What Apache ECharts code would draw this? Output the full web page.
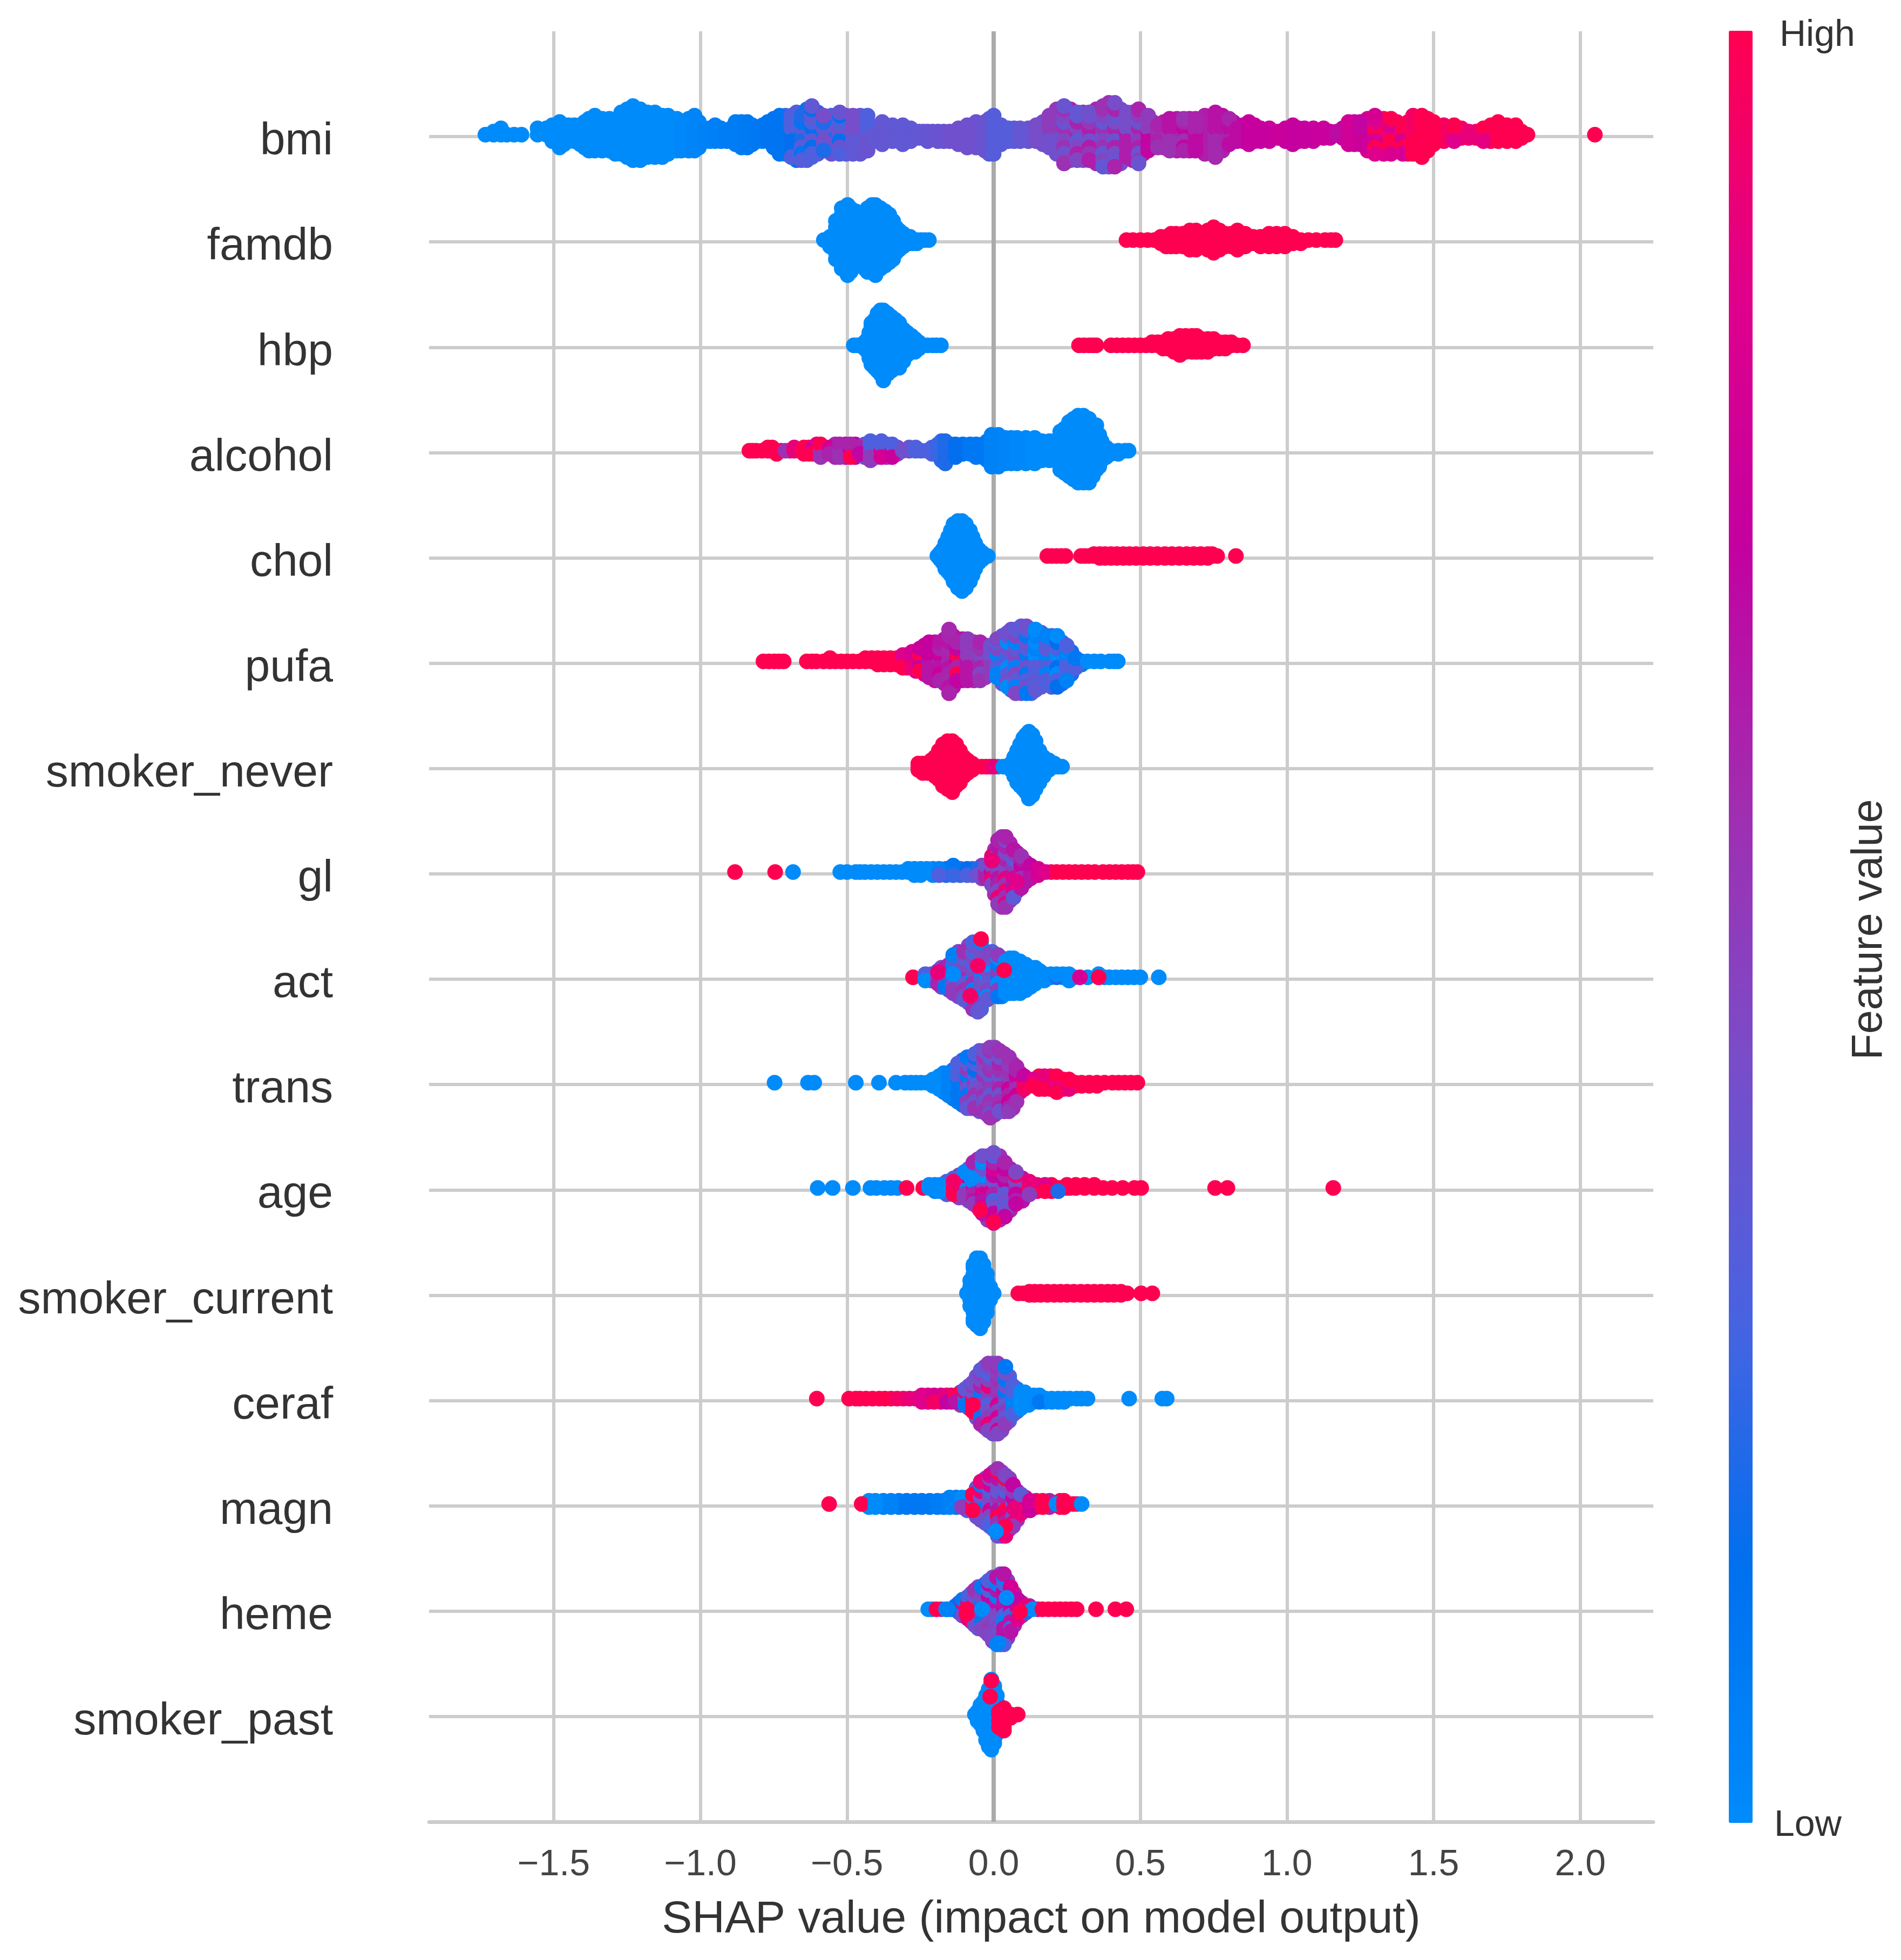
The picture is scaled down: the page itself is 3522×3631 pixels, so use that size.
<!DOCTYPE html>
<html><head><meta charset="utf-8">
<style>html,body{margin:0;padding:0;background:#fff}#c{width:3522px;height:3631px}</style>
<script src="https://cdn.jsdelivr.net/npm/echarts@6/dist/echarts.min.js"></script>
</head><body><div id="c"></div>
<script>
// Feature names, top to bottom
const featureNames=["bmi","famdb","hbp","alcohol","chol","pufa","smoker_never","gl","act","trans","age","smoker_current","ceraf","magn","heme","smoker_past"];
const xTicks=[-1.5,-1,-0.5,0,0.5,1,1.5,2];
// Each swarm column: [SHAP value, dots stacked above, dots stacked below, feature value(s)]
const bmi=[[-1.733,0,0,0],[-1.68,1,0,0],[-1.66,0,0,0],[-1.61,0,0,0],[-1.555,1,0,0],[-1.525,1,0,0],[-1.48,2,2,0],[-1.45,1.5,1,0],[-1.41,1.5,1.5,0],[-1.38,2.5,2.5,0],[-1.36,3,2.5,0],[-1.31,2.5,2.5,0],[-1.27,3.5,3,0],[-1.23,4.5,4,0],[-1.18,3.5,3.5,0],[-1.13,3,3.5,0],[-1.095,2.5,2.5,0],[-1.065,2,2.5,.02],[-1.02,3,2.5,.03],[-.985,1,1,.05],[-.95,1.5,1,.06],[-.91,.5,1,.08],[-.88,2,1.5,.08],[-.84,2,2,.09],[-.805,1,1,.1],[-.77,2,1,.12],[-.73,3,3,.12],[-.69,3,3.5,[.15,.3]],[-.655,3,4,[.12,.32,.2]],[-.62,4.5,3.5,[.3,.15,.35]],[-.58,3,2.5,[.2,.35,.42]],[-.525,3.5,3,[.3,.38,.15]],[-.48,3,3,[.35,.42]],[-.43,3,2.5,[.38,.3]],[-.41,0,1,.36],[-.38,2,1.5,.36],[-.31,1.5,1.5,.35],[-.255,.5,.5,.36],[-.225,.5,1,.37],[-.19,.5,1,.38],[-.15,.5,1,.4],[-.09,1.5,2,.4],[-.03,2,2.5,.38],
[0,3,3,.32],[.05,1,1,.32],[.09,1,1,.36],[.145,1.5,1,.42],[.19,3,2,[.4,.5]],[.24,4.5,4.5,[.38,.55,.45]],[.285,3.5,4,[.6,.45,.36]],[.326,3.5,4,[.52,.62,.4]],[.373,4.5,5,[.36,.55,.45]],[.413,5,5,[.42,.6,.38]],[.454,3.5,3.5,[.62,.42]],[.494,4,4.5,[.38,.6,.5]],[.527,3,2.5,[.7,.5]],[.56,1.5,2,[.6,.55]],[.6,2.5,2.5,[.55,.66]],[.648,2.5,2.5,[.6,.7,.55]],[.688,2.5,2.5,[.68,.6]],[.756,3.5,3.5,[.58,.66]],[.803,2.5,1.5,[.6,.68]],[.83,1,1,.68],[.87,2,1.5,.72],[.91,1,1,.72],[.97,.5,.5,.74],[1.02,1.5,1.5,.72],[1.06,1,1,.72],[1.125,1,.5,.74],[1.17,.5,0,.68],[1.21,2,1.5,.78],[1.25,2,1.5,[.75,.7]],[1.3,3,3,[.85,1,.8]],[1.355,2.5,3,[1,.82]],[1.395,1.5,3,[.8,1]],[1.43,3,3,[1,.95]],[1.46,3,3.5,1],[1.5,2,1.5,1],[1.57,1.5,1,[.85,1]],[1.62,.5,.5,.9],[1.67,1,1,[.88,1]],[1.72,2,1,1],[1.78,1.5,1,1],[1.82,0,0,1],[2.05,0,0,1]];
const bmiMid=[[-1.705,.5,0,0],[-1.635,0,0,0],[-1.505,1.5,1,0],[-1.465,1.5,1.5,0],[-1.43,1.5,1,0],[-1.395,2,2,0],[-1.335,2.5,2.5,0],[-1.29,2,3,0],[-1.25,4,3.5,0],[-1.205,4,4,0],[-1.155,3.5,3.5,0],[-1.11,3,3,0],[-1.08,2.5,2.5,0],[-1.04,2.5,2.5,.02],[-1.005,2,2,.03],[-.968,1,1,.05],[-.93,1,1,.07],[-.895,1,1,.08],[-.86,2,2,.08],[-.823,1.5,1.5,.09],[-.788,1.5,1,.1],[-.75,2.5,2,.12],[-.71,3,3,[.12,.3]],[-.672,3.5,4,[.3,.15]],[-.637,4,4,[.3,.12]],[-.6,3.5,3,[.35,.2]],[-.553,3,3,[.4,.3]],[-.503,3,3,[.32,.42]],[-.455,3,3,.36],[-.395,1,1,.36],[-.345,1.5,1,.35],[-.283,1,1,.35],[-.24,.5,.5,.36],[-.208,.5,.5,.37],[-.17,.5,1,.38],[-.12,1,1.5,.4],[-.06,2,2,.38],[-.015,2.5,3,.34],[.025,1.5,1.5,.33],[.07,1,1,.34],[.118,1,1,.38],[.168,2,1.5,.42],[.215,4,3,[.4,.52]],[.262,4,4,[.45,.6,.38]],[.305,3.5,4,[.5,.4]],[.35,4,4.5,[.42,.6]],[.393,5,5,[.4,.55]],[.433,4,4.5,[.6,.4]],[.474,3.5,4,[.42,.62]],[.51,3,3,[.6,.5]],[.543,2,2,.58],[.58,2,2,.62],[.625,2.5,2.5,.62],[.668,2.5,2.5,.64],[.72,3,3,.62],[.78,3,2.5,[.6,.68]],[.817,2,1,.68],[.85,1.5,1,.7],[.89,1.5,1,.72],[.94,1,1,.73],[.995,1,1,.72],[1.04,1,1,.72],[1.09,1,1,.73],[1.147,.5,.5,.72],[1.19,1,.5,.72],[1.23,2,1.5,.76],[1.275,2.5,2.5,.8],[1.33,2.5,3,[1,.85]],[1.375,2,2.5,.95],[1.413,2,3,1],[1.48,2.5,2.5,1],[1.535,1.5,1,.95],[1.595,1,.5,.95],[1.645,.5,.5,.95],[1.695,1.5,1,1],[1.75,1.5,1,1],[1.8,.5,.5,1]];
const famdb=[[-.579,0,0,0],[-.558,.5,1,0],[-.538,3,3,0],[-.518,5,4.5,0],[-.498,5.5,5.5,0],[-.47,4.5,4,0],[-.45,4,4,0],[-.43,5,5,0],[-.403,5.5,5.5,0],[-.37,4.5,4,0],[-.343,3,3,0],[-.322,1.5,1.5,0],[-.295,0,.5,0],[-.275,0,.5,0],[-.248,0,0,0],[-.221,0,0,0],
[.453,0,0,1],[.5,0,0,1],[.548,0,0,1],[.588,.5,1,1],[.622,1,1,1],[.669,1.5,1.5,1],[.709,1,1,1],[.75,2,2,1],[.79,1,1,1],[.831,1.5,1.5,1],[.885,.5,.5,1],[.939,1,1,1],[.993,1,1,1],[1.047,0,.5,1],[1.1,0,0,1],[1.165,0,0,1]];
const famdbMid=[[-.488,5,5,0],[-.46,4,4,0],[-.44,4.5,4.5,0],[-.415,5.5,5,0],[-.386,5,4.5,0],[-.356,4,3.5,0],[-.333,2,2,0],[-.308,1,1,0],[-.285,.5,.5,0],[-.262,0,.5,0],[-.235,0,0,0],[.475,0,0,1],[.525,0,0,1],[.57,.5,.5,1],[.605,1,1,1],[.645,1,1,1],[.69,1.5,1.5,1],[.73,1.5,1.5,1],[.77,1.5,1.5,1],[.81,1,1,1],[.858,1,1,1],[.91,.5,1,1],[.965,1,1,1],[1.02,.5,.5,1],[1.073,0,0,1],[1.13,0,0,1],[1.15,0,0,1]];
const hbp=[[-.477,0,0,0],[-.45,0,0,0],[-.43,1,1,0],[-.417,3.5,3,0],[-.396,5,4,0],[-.376,5.5,5.5,0],[-.349,4.5,4,0],[-.322,3.5,3.5,0],[-.295,2,1.5,0],[-.268,1,1,0],[-.241,0,0,0],[-.208,0,0,0],[-.18,0,0,0],
[.291,0,0,1],[.325,0,0,1],[.35,0,0,1],[.4,0,0,1],[.44,0,0,1],[.48,0,0,1],[.52,0,0,1],[.56,.5,0,1],[.595,1,.5,1],[.635,1.5,1.5,1],[.676,1.5,1,1],[.709,1,1,1],[.75,1,.5,1],[.79,.5,.5,1],[.83,0,0,1],[.85,0,0,1]];
const hbpMid=[[-.465,0,0,0],[-.44,.5,.5,0],[-.424,2,2,0],[-.406,4,3.5,0],[-.386,5.5,4.5,0],[-.362,5,4.5,0],[-.335,4,3.5,0],[-.308,2.5,2.5,0],[-.28,1.5,1,0],[-.255,.5,.5,0],[-.225,0,0,0],[-.195,0,0,0],[.308,0,0,1],[.338,0,0,1],[.42,0,0,1],[.46,0,0,1],[.5,0,0,1],[.54,.5,0,1],[.578,.5,.5,1],[.615,1,1,1],[.655,1.5,1,1],[.692,1.5,1,1],[.73,1,1,1],[.77,.5,.5,1],[.81,.5,0,1]];
const alcohol=[[-.833,0,0,1],[-.81,0,0,1],[-.77,.5,0,1],[-.74,0,.5,1],[-.71,0,0,[.55,.8]],[-.68,.5,0,.9],[-.647,.5,.5,1],[-.616,.5,.5,[1,.8]],[-.59,1,1,[.55,1]],[-.56,.5,.5,[.6,.8]],[-.525,1,1,[.55,.6]],[-.488,1,1,[.8,.6,1]],[-.457,.5,.5,[.7,.6]],[-.42,1.5,1.5,[.5,.3]],[-.383,1.5,1,[.8,.3]],[-.346,1,1,[.75,.3]],[-.31,0,0,.4],[-.266,.5,0,.3],[-.229,0,0,.3],[-.19,1,.5,.25],[-.165,1.5,2,.2],[-.13,1,1,.15],[-.08,1,.5,.1],[-.038,1,1,.1],[-.007,2.5,2.5,.05],[.04,2,2,.03],[.08,2,2,.02],[.14,2,2,0],[.19,1.5,1.5,0],[.227,3,3,0],[.257,4.5,4,0],[.288,5.5,5,0],[.325,5,5,0],[.35,4,3,0],[.368,1.5,1.5,0],[.4,0,.5,0],[.448,0,0,0],[.46,0,0,0]];
const alcoholMid=[[-.822,0,0,1],[-.79,0,0,1],[-.755,.5,0,1],[-.725,0,0,.7],[-.695,0,0,.8],[-.663,0,0,1],[-.63,.5,.5,1],[-.603,1,.5,.9],[-.575,.5,.5,.7],[-.54,1,1,.58],[-.505,1,1,.65],[-.472,1,1,.7],[-.44,1,1,.4],[-.4,1,1,.4],[-.365,1,1,.45],[-.328,.5,.5,.45],[-.288,.5,0,.35],[-.248,0,0,.3],[-.21,.5,.5,.28],[-.178,1.5,1.5,.22],[-.148,1,1,.18],[-.105,1,.5,.12],[-.06,1,1,.1],[-.022,1.5,1.5,.08],[.016,2.5,2.5,.03],[.06,2,2,.02],[.11,2,2,.01],[.165,1.5,1.5,0],[.208,1.5,1.5,0],[.242,3.5,3.5,0],[.272,5,4.5,0],[.306,5.5,5,0],[.338,4,4,0],[.36,2.5,2.5,0],[.384,.5,1,0],[.425,0,.5,0]];
const chol=[[-.192,0,0,0],[-.174,1,1,0],[-.155,3,2.5,0],[-.137,5,4,0],[-.108,5.5,5.5,0],[-.081,4,4,0],[-.063,2,2,0],[-.038,.5,.5,0],[-.02,0,0,0],
[.183,0,0,1],[.214,0,0,1],[.245,0,0,1],[.298,0,0,1],[.325,0,0,1],[.362,.3,.3,1],[.4,.3,.3,1],[.442,.3,.3,1],[.485,.3,.3,1],[.534,.3,.3,1],[.584,.3,.3,1],[.633,.3,.3,1],[.682,.3,.3,1],[.73,.3,.3,1],[.762,0,0,1],[.826,0,0,1]];
const cholMid=[[-.183,.5,.5,0],[-.165,2,2,0],[-.146,4,3,0],[-.122,5.5,5,0],[-.095,5,5,0],[-.072,3,3,0],[-.05,1,1,0],[.198,0,0,1],[.23,0,0,1],[.31,0,0,1],[.342,.3,0,1],[.38,.3,.3,1],[.42,.3,.3,1],[.463,.3,.3,1],[.51,.3,.3,1],[.558,.3,.3,1],[.608,.3,.3,1],[.658,.3,.3,1],[.706,.3,.3,1],[.745,.3,0,1]];
const pufa=[[-.785,0,0,1],[-.748,0,0,1],[-.716,0,0,1],[-.637,0,0,1],[-.605,0,0,1],[-.558,.5,0,1],[-.52,0,0,1],[-.48,0,0,1],[-.437,.5,0,1],[-.395,.5,.5,1],[-.352,.5,.5,1],[-.31,1,1,[1,.85]],[-.278,1.5,1,[.9,.8]],[-.252,2,1.5,[.75,1,.7]],[-.22,3,2.5,[.65,.72]],[-.183,3,3,[.6,.75,.65]],[-.152,5,5,[.58,.6,.65]],[-.125,3,3,[.7,1,.6]],[-.089,3.5,3,[.65,.5]],[-.046,3,3,[.55,.45,.6]],[-.01,2.5,2,[.5,.4]],[.012,3.5,2.5,[.45,.05,.3]],[.048,4.5,4,[.4,.3,0]],[.075,5,5,[.35,.45,.05]],[.112,5.5,5,[.3,.1,.4]],[.143,5,4.5,[.3,0,.35,.05]],[.18,4,3.5,[.35,.05,.3]],[.217,4,4,[.3,0,.15]],[.249,2.5,3,[.3,.05]],[.28,.5,1,[.1,.3]],[.32,0,0,0],[.365,0,0,0],[.423,0,0,0]];
const pufaMid=[[-.766,0,0,1],[-.732,0,0,1],[-.62,0,0,1],[-.58,0,0,1],[-.54,0,0,1],[-.5,0,0,1],[-.458,0,0,1],[-.416,.5,0,1],[-.374,.5,.5,1],[-.33,.5,.5,1],[-.295,1,1,.95],[-.265,1.5,1.5,.8],[-.236,2.5,2,.72],[-.2,3,3,.65],[-.167,3.5,3.5,.62],[-.138,4,4,.65],[-.107,3.5,3,.65],[-.067,3,3,.58],[-.028,2.5,2.5,.5],[.03,4,3.5,.35],[.06,5,4.5,.38],[.094,5.5,5,.35],[.128,5,5,.32],[.162,4.5,4,.32],[.198,4,4,.3],[.233,3,3.5,.25],[.265,1.5,2,.2],[.3,0,.5,.1],[.343,0,0,0],[.395,0,0,0],[.41,0,0,0]];
const smokerNever=[[-.257,.5,.5,1],[-.226,.5,1,1],[-.2,1.5,1.5,1],[-.173,3.5,3,1],[-.141,4,4,1],[-.115,2.5,2.5,1],[-.089,1,1,1],[-.057,0,0,1],[-.025,0,0,1],[0,0,0,.9],
[.033,0,0,0],[.059,.5,.5,0],[.08,2.5,2.5,0],[.101,4.5,3.5,0],[.12,5.5,5,0],[.143,4,3.5,0],[.17,1.5,1.5,0],[.207,.5,0,0],[.233,0,0,0]];
const smokerNeverMid=[[-.242,.5,1,1],[-.213,1,1,1],[-.187,2.5,2,1],[-.157,4,3.5,1],[-.128,3.5,3,1],[-.102,1.5,1.5,1],[-.073,.5,.5,1],[-.04,0,0,1],[-.012,0,0,1],[.015,0,0,0],[.046,0,0,0],[.07,1.5,1.5,0],[.09,3.5,3,0],[.11,5,4,0],[.132,5,4.5,0],[.156,2.5,2.5,0],[.188,1,.5,0],[.22,0,0,0]];
const gl=[[-.882,0,0,1],[-.745,0,0,1],[-.684,0,0,0],[-.523,0,0,0],[-.47,0,0,0],[-.439,0,0,0],[-.397,0,0,[0,.3]],[-.354,0,0,0],[-.312,0,0,0],[-.27,.5,.5,0],[-.228,.5,0,0],[-.186,.5,.5,[.3,.05]],[-.138,1,.5,[.25,.1]],[-.09,.5,.5,[.3,.15]],[-.054,.5,.5,[.4,.2]],[-.027,1,1,[.6,.4]],[-.006,2.5,2,[.7,.45,.9]],[.015,5,5,[.5,.45,.65,.9,.6]],[.041,5.5,5.5,[.55,.45,.9,.6]],[.068,3.5,4,[.65,.5,.85,.35]],[.094,2.5,2.5,[.65,.7,.55]],[.126,1,1,[.65,.7]],[.152,.5,.5,.8],[.178,0,0,.85],[.215,0,0,1],[.257,0,0,1],[.3,0,0,1],[.345,0,0,1],[.373,0,0,1],[.416,0,0,1],[.458,0,0,1],[.49,0,0,1]];
const glMid=[[-.5,0,0,0],[-.455,0,0,0],[-.418,0,0,0],[-.375,0,0,0],[-.333,0,0,0],[-.291,.5,0,0],[-.249,.5,.5,0],[-.207,.5,.5,.03],[-.162,.5,.5,.2],[-.114,.5,.5,.25],[-.072,.5,.5,.3],[-.04,1,1,.5],[.004,3.5,3.5,.55],[.028,5.5,5.5,.55],[.055,4.5,4.5,.6],[.08,3,3,.6],[.11,1.5,1.5,.68],[.14,.5,.5,.72],[.165,0,0,.85],[.196,0,0,1],[.236,0,0,1],[.278,0,0,1],[.322,0,0,1],[.395,0,0,1],[.437,0,0,1],[.475,0,0,1]];
const act=[[-.275,0,0,1],[-.233,.5,.5,[0,.3]],[-.19,1,1,[.5,.3,.6]],[-.165,1.5,1.5,[.6,.1,.5]],[-.138,3.5,2.5,[.05,.5,.4]],[-.101,4,3.5,[.45,.55,.35]],[-.07,5.5,5,[.05,.45,.55,.3]],[-.043,5.5,5,[.3,.05,.4,.5,.4]],[-.022,3.5,3.5,[0,.45,.35]],[.015,3.5,3,[.1,.5,0]],[.041,2.5,2.5,0],[.068,3,2.5,0],[.11,2,2,0],[.142,1.5,1,0],[.173,.5,.5,0],[.215,.5,0,[.2,0]],[.257,.5,.5,0],[.294,0,0,[.8,0]],[.358,.5,0,0],[.395,0,0,0],[.437,0,0,0],[.479,0,0,0],[.563,0,0,0]];
const actMid=[[-.212,.5,.5,.3],[-.178,1.5,1.5,.4],[-.152,2,2,.5],[-.12,4,3,.45],[-.085,5,4,.45],[-.056,5.5,5,.4],[-.005,4,3,.3],[.028,3,3,0],[.055,3,2.5,0],[.09,2.5,2.5,0],[.126,1.5,1.5,0],[.157,1,.5,0],[.195,.5,0,0],[.236,.5,0,0],[.275,0,0,0],[.32,0,0,0],[.378,0,0,0],[.416,0,0,0],[.458,0,0,0],[.5,0,0,0]];
const trans=[[-.747,0,0,0],[-.633,0,0,0],[-.612,0,0,0],[-.47,0,0,0],[-.391,0,0,0],[-.333,0,0,0],[-.302,0,0,0],[-.265,0,0,0],[-.228,0,0,0],[-.186,1,1,0],[-.154,1.5,2,.05],[-.122,3,3,[.1,.3]],[-.09,4,4,[.5,.1,.35]],[-.064,4.5,4,[.55,.3,.4,.15]],[-.033,5,4.5,[.4,.55,.45]],[-.012,5.5,5.5,[.55,.35,.5]],[.02,5,4.5,[.55,.4,.6]],[.052,4,4.5,[.6,.5,.75,.55]],[.078,2.5,3,[.6,.75,.55]],[.104,1,1,[.95,.7]],[.136,.5,.5,[1,.85]],[.173,1,1,[1,.9]],[.215,1,1.5,[.85,1]],[.257,.5,1,[1,.9]],[.3,0,.5,1],[.352,0,.5,1],[.405,0,0,1],[.447,0,0,1],[.49,0,0,1]];
const transMid=[[-.283,0,0,0],[-.248,0,0,0],[-.207,.5,.5,0],[-.17,1.5,1.5,.03],[-.138,2,2.5,.08],[-.106,3.5,3.5,.2],[-.077,4,4,.35],[-.048,5,4.5,.4],[-.022,5,5,.45],[.004,5.5,5,.5],[.036,4.5,4.5,.55],[.065,3,4,.58],[.09,1.5,1.5,.8],[.12,.5,.5,1],[.155,1,1,1],[.194,1,1,1],[.236,.5,1,1],[.278,0,.5,1],[.326,0,.5,1],[.378,0,0,1],[.426,0,0,1],[.468,0,0,1]];
const age=[[-.6,0,0,0],[-.549,0,0,0],[-.48,0,0,0],[-.42,0,0,0],[-.373,0,0,0],[-.328,0,0,0],[-.297,0,0,1],[-.24,0,0,1],[-.22,.5,0,0],[-.183,.5,.5,0],[-.137,1.5,1,[1,.3]],[-.1,2.5,1.5,[.7,0,.5]],[-.069,4,2.5,[.65,0,.6,.5]],[-.038,5,4,[.65,.4,.8,0]],[0,5.5,5.5,[.8,.4,.6,.7,.3]],[.038,4,4.5,[.4,.7,.35,.6]],[.076,2.5,2.5,[.6,.45,.7,.9]],[.122,1,1,[1,.9,.5]],[.175,.5,.5,[1,.85]],[.22,0,.5,[1,.2]],[.28,.5,0,1],[.343,.5,0,1],[.404,0,0,1],[.48,0,0,1],[.503,0,0,1],[.755,0,0,1],[.797,0,0,1],[1.158,0,0,1]];
const ageMid=[[-.4,0,0,0],[-.35,0,0,0],[-.2,.5,.5,.05],[-.16,1,1,.3],[-.118,2,1.5,.5],[-.085,3,2,.4],[-.054,4.5,3,.55],[-.02,5,5,.5],[.02,5,5,.55],[.056,3,3.5,.6],[.098,1.5,2,.65],[.148,.5,.5,.9],[.197,.5,.5,1],[.23,0,0,1],[.25,.5,0,1],[.26,0,0,1],[.31,.5,0,1],[.373,0,0,1],[.44,0,0,1]];
const smokerCurrent=[[-.091,0,0,0],[-.069,4.5,4.5,0],[-.046,5.5,5.5,0],[-.023,3,3,0],[0,0,0,0],
[.084,0,0,1],[.122,.25,.25,1],[.16,.25,.25,1],[.206,.25,.25,1],[.25,.25,.25,1],[.297,.25,.25,1],[.343,.25,.25,1],[.389,.25,.25,1],[.434,.25,.25,1],[.503,0,0,1],[.541,0,0,1]];
const smokerCurrentMid=[[-.08,2,2,0],[-.058,5.5,5,0],[-.035,4.5,4.5,0],[-.012,1,1,0],[.1,0,0,1],[.14,.25,.25,1],[.183,.25,.25,1],[.228,.25,.25,1],[.273,.25,.25,1],[.32,.25,.25,1],[.366,.25,.25,1],[.41,.25,.25,1],[.455,0,0,1]];
const ceraf=[[-.603,0,0,1],[-.493,0,0,1],[-.456,0,0,1],[-.413,0,0,1],[-.371,0,0,1],[-.329,0,0,.95],[-.287,0,0,.9],[-.245,.5,.5,.85],[-.203,.5,.5,[.95,.8]],[-.16,.5,.5,[.7,.9]],[-.129,.5,.5,[.65,1]],[-.097,1.5,1,[.35,.9,.1]],[-.071,2.5,2,[1,.4,.1,.5]],[-.044,4.5,4,[.45,.1,.5,.6,.35]],[-.018,5.5,5,[.45,.5,.3,.9,.4]],[.014,5.5,5.5,[.45,.55,.8,.5]],[.04,5,4,[.5,.1,.35,.4]],[.066,2,2.5,[.05,.3]],[.093,1,1.5,0],[.119,.5,1,0],[.156,.5,.5,[.1,0]],[.198,0,.5,0],[.24,0,.5,0],[.283,0,0,0],[.32,0,0,0],[.462,0,0,0],[.575,0,0,0],[.59,0,0,0]];
const cerafMid=[[-.47,0,0,1],[-.435,0,0,1],[-.39,0,0,1],[-.35,0,0,1],[-.308,0,0,.95],[-.266,0,0,.88],[-.224,.5,.5,.85],[-.18,.5,.5,.8],[-.145,.5,.5,.75],[-.113,1,1,.5],[-.084,2,1.5,.45],[-.058,3.5,3,.4],[-.03,5,4.5,.45],[-.002,5.5,5.5,.4],[.027,5,5,.45],[.053,3.5,3.5,.3],[.08,1.5,2,.05],[.106,1,1,0],[.137,.5,.5,0],[.177,0,.5,0],[.22,0,.5,0],[.26,0,0,0],[.3,0,0,0]];
const magn=[[-.561,0,0,1],[-.45,0,0,1],[-.403,.5,.5,0],[-.35,.5,.5,.05],[-.297,.5,.5,.1],[-.245,.5,.5,.1],[-.192,.5,.5,.08],[-.15,1,.5,.05],[-.108,1,.5,[.2,0,.5]],[-.071,1.5,1,[1,.4,0]],[-.044,3.5,2.5,[.9,.4,.1]],[-.013,4.5,3.5,[.3,.45,.8]],[.014,5.5,5,[.4,.55,.65,.35,1]],[.04,4.5,5,[.45,.6,1,.3,.9]],[.066,3,3.5,[.4,.7,.9,.5]],[.093,1.5,1.5,[.35,.9,.7]],[.124,.5,1,[.8,.75]],[.167,.5,.5,1],[.214,0,0,[0,1]],[.24,.5,.5,1],[.272,0,0,1],[.3,0,0,0]];
const magnMid=[[-.425,.5,.5,0],[-.376,.5,.5,.05],[-.323,.5,.5,.08],[-.27,.5,.5,.1],[-.218,.5,.5,.1],[-.17,.5,.5,.07],[-.128,1,.5,.1],[-.09,1,1,.3],[-.058,2.5,2,.4],[-.028,4,3,.4],[0,5,4,.45],[.027,5,5,.5],[.053,4,4,.5],[.08,2,2.5,.55],[.108,1,1,.8],[.145,.5,.5,.95],[.19,.5,.5,.6],[.227,.5,.5,1],[.256,0,0,1],[.285,0,0,.5]];
const heme=[[-.223,0,0,0],[-.195,0,0,1],[-.162,0,0,0],[-.13,.5,0,.15],[-.106,1.5,1,[.1,.9,.45]],[-.087,2,1.5,[.3,.9,.5]],[-.064,3,2.5,[.4,.9,.55]],[-.04,3.5,3,[.45,.1,.5]],[-.017,4.5,4,[.45,.3,.5,.7]],[.011,5,5.5,[.4,.65,.45,.05]],[.035,5.5,5.5,[.7,.65,.3,.65,.05]],[.058,3.5,3.5,[.65,.75,.3,.8]],[.082,1.5,1.5,[.7,.85,.1]],[.11,.5,.5,[.2,.9]],[.133,0,0,0],[.166,0,0,1],[.208,0,0,1],[.246,0,0,1],[.283,0,0,1],[.349,0,0,1],[.415,0,0,1],[.452,0,0,1]];
const hemeMid=[[-.21,0,0,0],[-.178,0,0,.5],[-.146,0,0,.1],[-.118,1,.5,.3],[-.097,1.5,1,.5],[-.075,2.5,2,.5],[-.052,3.5,3,.4],[-.028,4,3.5,.45],[-.003,5,5,.45],[.023,5.5,5.5,.45],[.047,4.5,4.5,.5],[.07,2.5,2.5,.6],[.096,1,1,.5],[.122,.5,0,.6],[.15,0,0,.8],[.187,0,0,1],[.227,0,0,1],[.265,0,0,1]];
const smokerPast=[[-.064,0,0,0],[-.045,1.5,1.5,0],[-.026,3,4,0],[-.008,5.5,5.5,0],[.011,3,3,0],
[.018,.5,2,1],[.035,1,2.5,1],[.058,0,.5,1],[.082,0,0,1]];
const smokerPastMid=[[-.055,.5,1,0],[-.035,2,2.5,0],[-.017,4,5,0],[.002,4.5,4.5,0]];
const featureColumns=[bmi,famdb,hbp,alcohol,chol,pufa,smokerNever,gl,act,trans,age,smokerCurrent,ceraf,magn,heme,smokerPast];
const featureMidColumns=[bmiMid,famdbMid,hbpMid,alcoholMid,cholMid,pufaMid,smokerNeverMid,glMid,actMid,transMid,ageMid,smokerCurrentMid,cerafMid,magnMid,hemeMid,smokerPastMid];
// Single dots that stand out inside a swarm: [feature index, SHAP value, stack height, feature value]
const standoutDots=[[8,.036,1.1,1],[8,-.054,1.8,.95],[8,-.138,.5,0],[8,-.08,-2.9,.95],[8,-.054,-5.4,.35],[8,-.19,.8,.9],[8,-.043,6,1],[8,.358,0,1],
[7,-.006,1.8,.9],[7,.078,-1.5,.85],[10,-.137,1,.95],[10,-.076,1.5,0],[10,-.046,-3.5,1],[10,0,-5.4,1],[12,-.071,-1,1],
[13,-.071,-1,1],[13,.072,-.8,.9],[13,.04,-3.5,1],[13,.008,-4.3,0],[14,-.092,0,1],[14,-.092,-.7,1],[14,-.04,0,0],[14,.044,1.8,0],[14,.016,-5.3,.05],[14,.09,-.4,1],[14,-.158,0,.05],
[15,-.008,5.3,1],[15,-.012,2.8,1]];
const zeroLine=[[0,-1],[0,16]];

const stackStep=0.0605, rowShift=0.018;
function swarm(){
  const pts=[];
  const rowOf=i=>featureNames.length-1-i;
  const addColumns=(cols,i)=>{
    cols.forEach(([x,up,dn,c])=>{
      const list=Array.isArray(c)?c:[c];
      const offs=[0];
      for(let k=1;k<=Math.max(up,dn);k++){ if(k<=up)offs.push(k); if(k<=dn)offs.push(-k); }
      if(up%1)offs.push(up);
      if(dn%1)offs.push(-dn);
      offs.forEach((o,n)=>pts.push([x,rowOf(i)+rowShift+o*stackStep,list[n%list.length]]));
    });
  };
  featureNames.forEach((_,i)=>{addColumns(featureMidColumns[i],i);addColumns(featureColumns[i],i);});
  standoutDots.forEach(([i,x,o,c])=>pts.push([x,rowOf(i)+rowShift+o*stackStep,c]));
  return pts;
}
const font='"Liberation Sans",Arial,sans-serif';
const chart=echarts.init(document.getElementById('c'),null,{renderer:'canvas'});
chart.setOption({
  animation:false,
  backgroundColor:'#fff',
  grid:{left:795,top:58,width:2268,height:3317,containLabel:false},
  xAxis:{type:'value',min:-1.925,max:2.249,
    axisLine:{show:true,onZero:false,lineStyle:{color:'#cccccc',width:7}},
    axisTick:{show:false,customValues:xTicks},
    splitLine:{show:true,lineStyle:{color:'#cccccc',width:6}},
    axisLabel:{customValues:xTicks,color:'#444',fontFamily:font,fontSize:68,margin:46,formatter:v=>v.toFixed(1).replace('-','\u2212')},
    name:'SHAP value (impact on model output)',nameLocation:'middle',nameGap:140,
    nameTextStyle:{color:'#333',fontFamily:font,fontSize:84}},
  yAxis:{type:'value',min:-1,max:16,interval:1,
    axisLine:{show:false},axisTick:{show:false},
    splitLine:{show:true,showMinLine:false,showMaxLine:false,lineStyle:{color:'#cccccc',width:6}},
    axisLabel:{color:'#333',fontFamily:font,fontSize:84,margin:178,verticalAlign:'top',lineHeight:20,showMinLabel:false,showMaxLabel:false,
      formatter:v=>(v>=0&&v<featureNames.length)?featureNames[featureNames.length-1-v]:''}},
  visualMap:{type:'continuous',min:0,max:1,dimension:2,seriesIndex:1,show:true,calculable:false,hoverLink:false,
    left:3203,top:57,itemWidth:44,itemHeight:3320,padding:0,borderWidth:0,
    inRange:{color:['#008bfb','#0070ef','#4a62e0','#7a4cc8','#a22cb0','#c400a0','#e0008a','#ff0051']}},
  series:[
    {type:'line',data:zeroLine,symbol:'none',silent:true,z:1,lineStyle:{color:'#aaaaaa',width:8}},
    {type:'scatter',data:swarm(),symbol:'circle',symbolSize:29,silent:true,z:3,large:false,progressive:0,itemStyle:{opacity:1}}
  ],
  graphic:[
    {type:'text',left:3297,top:32,style:{text:'High',fontFamily:font,fontSize:68,fill:'#333'}},
    {type:'text',left:3287,top:3348,style:{text:'Low',fontFamily:font,fontSize:68,fill:'#333'}},
    {type:'text',x:3464,y:1722,rotation:Math.PI/2,style:{text:'Feature value',fontFamily:font,fontSize:79,fill:'#333',align:'center',verticalAlign:'middle'}}
  ]
});
</script></body></html>
